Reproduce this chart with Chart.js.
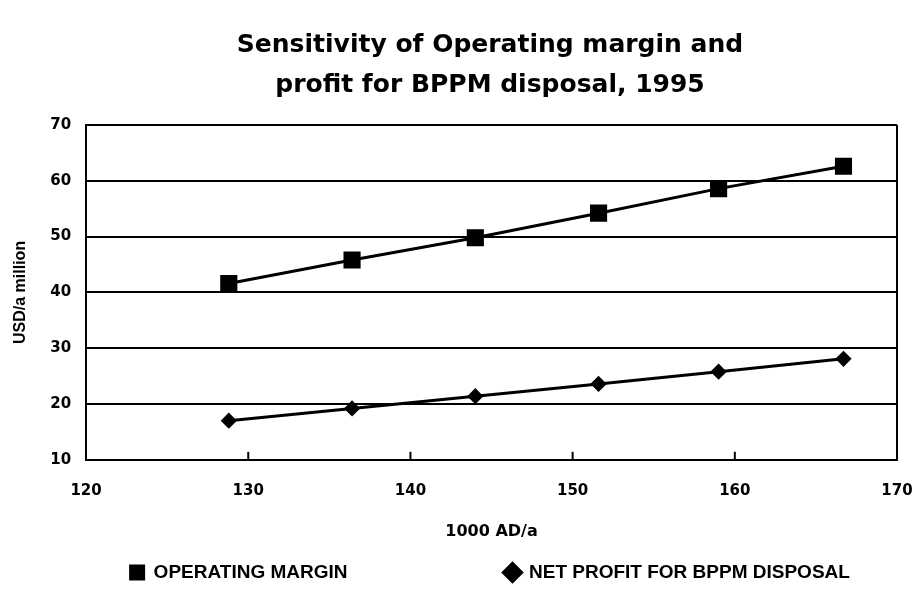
<!DOCTYPE html>
<html>
<head>
<meta charset="utf-8">
<script src="https://cdn.jsdelivr.net/npm/chart.js@4"></script>
<style>
  html, body { margin: 0; padding: 0; background: #fff; }
  #wrap { width: 916px; height: 592px; }
</style>
</head>
<body>
<div id="wrap"><canvas id="chart" width="916" height="592"></canvas></div>
<script>
// values
const xValues = [128.8, 136.4, 144.0, 151.6, 159.0, 166.7];
const operatingMargin = [41.6, 45.8, 49.8, 54.2, 58.6, 62.6];
const netProfit = [17.0, 19.2, 21.4, 23.6, 25.8, 28.1];
const xTicks = [120, 130, 140, 150, 160, 170];
const yTicks = [10, 20, 30, 40, 50, 60, 70];

const toPoints = (ys) => xValues.map((x, i) => ({ x: x, y: ys[i] }));

// short tick marks on the inside of the bottom axis
const innerTicks = {
  id: 'innerTicks',
  afterDatasetsDraw(chart) {
    const ctx = chart.ctx;
    const xs = chart.scales.x;
    const bottom = chart.chartArea.bottom;
    ctx.save();
    ctx.strokeStyle = '#000';
    ctx.lineWidth = 2;
    xTicks.slice(1, -1).forEach((v) => {
      const px = xs.getPixelForValue(v);
      ctx.beginPath();
      ctx.moveTo(px, bottom);
      ctx.lineTo(px, bottom - 8);
      ctx.stroke();
    });
    ctx.restore();
  }
};

// the original centres its title and legend a bit right of the page middle
const shiftBlocks = {
  id: 'shiftBlocks',
  afterLayout(chart) {
    [[chart.titleBlock, 490], [chart.legend, 490]].forEach(([box, centre]) => {
      if (!box) return;
      const d = centre - (box.left + box.right) / 2;
      box.left += d;
      box.right += d;
    });
  }
};

const gap = '\u2003'.repeat(8);

new Chart(document.getElementById('chart').getContext('2d'), {
  type: 'scatter',
  data: {
    datasets: [
      {
        label: 'OPERATING MARGIN',
        data: toPoints(operatingMargin),
        showLine: true,
        borderColor: '#000',
        backgroundColor: '#000',
        borderWidth: 3,
        pointStyle: 'rect',
        pointRadius: 10,
        pointHoverRadius: 10
      },
      {
        label: 'NET PROFIT FOR BPPM DISPOSAL',
        data: toPoints(netProfit),
        showLine: true,
        borderColor: '#000',
        backgroundColor: '#000',
        borderWidth: 3,
        pointStyle: 'rectRot',
        pointRadius: 6,
        pointHoverRadius: 6
      }
    ]
  },
  plugins: [innerTicks, shiftBlocks],
  options: {
    responsive: false,
    animation: false,
    layout: { padding: { left: 11, right: 19, top: 4, bottom: 0 } },
    plugins: {
      title: {
        display: true,
        text: ['Sensitivity of Operating margin and', 'profit for BPPM disposal, 1995'],
        color: '#000',
        font: { family: 'DejaVu Sans', size: 25, weight: 'bold', lineHeight: 1.6 },
        padding: { top: 21, bottom: 20 }
      },
      legend: {
        position: 'bottom',
        labels: {
          usePointStyle: true,
          boxWidth: 14,
          boxHeight: 13,
          color: '#000',
          padding: 6,
          font: { family: 'Liberation Sans, Arial', size: 19, weight: 'bold' },
          generateLabels(chart) {
            const items = Chart.defaults.plugins.legend.labels.generateLabels(chart);
            items[0].text = items[0].text + gap;
            return items;
          }
        }
      },
      tooltip: { enabled: false }
    },
    scales: {
      x: {
        type: 'linear',
        min: 120,
        max: 170,
        afterBuildTicks(scale) { scale.ticks = xTicks.map((v) => ({ value: v })); },
        // let the last tick label hang past the plot edge, as in the original
        afterFit(scale) { scale.paddingRight = 0; },
        grid: {
          color: (c) => (c.tick && (c.tick.value === 120 || c.tick.value === 170) ? '#000' : 'rgba(0,0,0,0)'),
          lineWidth: 2,
          drawTicks: false
        },
        border: { color: '#000', width: 2 },
        ticks: {
          color: '#000',
          padding: 22,
          font: { family: 'DejaVu Sans', size: 15, weight: 'bold' }
        },
        title: {
          display: true,
          text: '1000 AD/a',
          color: '#000',
          font: { family: 'DejaVu Sans', size: 16, weight: 'bold' },
          padding: { top: 0, bottom: 16 }
        }
      },
      y: {
        type: 'linear',
        min: 10,
        max: 70,
        afterBuildTicks(scale) { scale.ticks = yTicks.map((v) => ({ value: v })); },
        grid: { color: '#000', lineWidth: 2, drawTicks: false },
        border: { color: '#000', width: 2 },
        ticks: {
          color: '#000',
          padding: 15,
          font: { family: 'DejaVu Sans', size: 15, weight: 'bold' }
        },
        title: {
          display: true,
          text: 'USD/a million',
          color: '#000',
          font: { family: 'Liberation Sans, Arial', size: 16, weight: 'bold' },
          padding: { top: 0, bottom: 5 }
        }
      }
    }
  }
});
</script>
</body>
</html>
